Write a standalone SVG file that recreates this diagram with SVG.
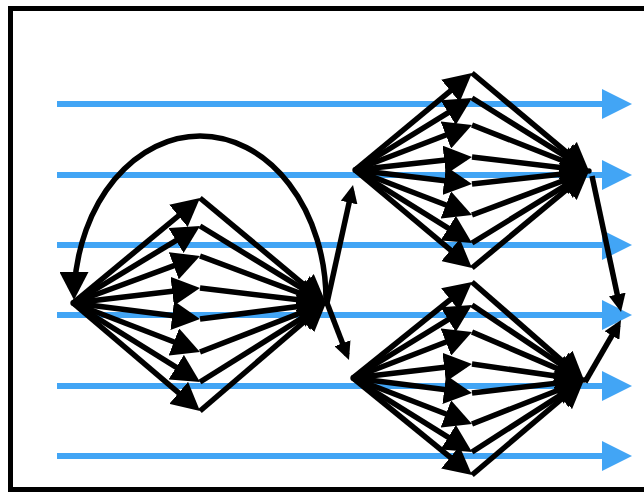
<svg xmlns="http://www.w3.org/2000/svg" width="644" height="493" viewBox="0 0 644 493">
<style>
.blue{stroke:#42a5f5;stroke-width:6;fill:none;marker-end:url(#ba)}
.e{stroke:#000;stroke-width:5.5;fill:none;marker-end:url(#big);stroke-dasharray:95 10}
.s{stroke:#000;stroke-width:5.5;fill:none;marker-end:url(#small)}
.n{fill:#000}
</style>
<defs>
<marker id="ba" markerUnits="userSpaceOnUse" viewBox="0 0 30 30" markerWidth="30" markerHeight="30" refX="0" refY="15" orient="auto"><path d="M0,0 L30,15 L0,30 z" fill="#42a5f5"/></marker>
<marker id="big" markerUnits="userSpaceOnUse" viewBox="0 0 28 29" markerWidth="28" markerHeight="29" refX="28" refY="14.5" orient="auto"><path d="M0,0 L28,14.5 L0,29 z" fill="#000"/></marker>
<marker id="small" markerUnits="userSpaceOnUse" viewBox="0 0 18 17" markerWidth="18" markerHeight="17" refX="18" refY="8.5" orient="auto"><path d="M0,0 L18,8.5 L0,17 z" fill="#000"/></marker>
</defs>
<rect x="10.5" y="8.5" width="700" height="481" fill="#fff" stroke="#000" stroke-width="5"/>
<g id="lanes">
<line class="blue" x1="57" y1="104" x2="602" y2="104"/>
<line class="blue" x1="57" y1="175" x2="602" y2="175"/>
<line class="blue" x1="57" y1="245" x2="602" y2="245"/>
<line class="blue" x1="57" y1="315" x2="602" y2="315"/>
<line class="blue" x1="57" y1="386" x2="602" y2="386"/>
<line class="blue" x1="57" y1="456" x2="602" y2="456"/>
</g>
<g id="connectors">
<path class="e" pathLength="100" d="M73 303 L200 198"/>
<path class="e" pathLength="100" d="M73 303 L200 226"/>
<path class="e" pathLength="100" d="M73 303 L200 256"/>
<path class="e" pathLength="100" d="M73 303 L200 288"/>
<path class="e" pathLength="100" d="M73 303 L200 319"/>
<path class="e" pathLength="100" d="M73 303 L200 352"/>
<path class="e" pathLength="100" d="M73 303 L200 382"/>
<path class="e" pathLength="100" d="M73 303 L200 411"/>
<path class="e" pathLength="100" d="M200 198 L326 303"/>
<path class="e" pathLength="100" d="M200 226 L326 303"/>
<path class="e" pathLength="100" d="M200 256 L326 303"/>
<path class="e" pathLength="100" d="M200 288 L326 303"/>
<path class="e" pathLength="100" d="M200 319 L326 303"/>
<path class="e" pathLength="100" d="M200 352 L326 303"/>
<path class="e" pathLength="100" d="M200 382 L326 303"/>
<path class="e" pathLength="100" d="M200 411 L326 303"/>
<path class="e" pathLength="100" style="stroke-dasharray:97 10" d="M326 300 A 126 164 0 0 0 74 300"/>
<path class="e" pathLength="100" d="M355 170 L472 73"/>
<path class="e" pathLength="100" d="M355 170 L472 98"/>
<path class="e" pathLength="100" d="M355 170 L472 125"/>
<path class="e" pathLength="100" d="M355 170 L472 157"/>
<path class="e" pathLength="100" d="M355 170 L472 184"/>
<path class="e" pathLength="100" d="M355 170 L472 215"/>
<path class="e" pathLength="100" d="M355 170 L472 243"/>
<path class="e" pathLength="100" d="M355 170 L472 268"/>
<path class="e" pathLength="100" d="M472 73 L589 171"/>
<path class="e" pathLength="100" d="M472 98 L589 171"/>
<path class="e" pathLength="100" d="M472 125 L589 171"/>
<path class="e" pathLength="100" d="M472 157 L589 171"/>
<path class="e" pathLength="100" d="M472 184 L589 171"/>
<path class="e" pathLength="100" d="M472 215 L589 171"/>
<path class="e" pathLength="100" d="M472 243 L589 171"/>
<path class="e" pathLength="100" d="M472 268 L589 171"/>
<path class="e" pathLength="100" d="M353 378 L472 282"/>
<path class="e" pathLength="100" d="M353 378 L472 305"/>
<path class="e" pathLength="100" d="M353 378 L472 332"/>
<path class="e" pathLength="100" d="M353 378 L472 364"/>
<path class="e" pathLength="100" d="M353 378 L472 393"/>
<path class="e" pathLength="100" d="M353 378 L472 424"/>
<path class="e" pathLength="100" d="M353 378 L472 452"/>
<path class="e" pathLength="100" d="M353 378 L472 475"/>
<path class="e" pathLength="100" d="M472 282 L584 380"/>
<path class="e" pathLength="100" d="M472 305 L584 380"/>
<path class="e" pathLength="100" d="M472 332 L584 380"/>
<path class="e" pathLength="100" d="M472 364 L584 380"/>
<path class="e" pathLength="100" d="M472 393 L584 380"/>
<path class="e" pathLength="100" d="M472 424 L584 380"/>
<path class="e" pathLength="100" d="M472 452 L584 380"/>
<path class="e" pathLength="100" d="M472 475 L584 380"/>
<path class="s" pathLength="100" style="stroke-dasharray:95 10" d="M327 303 L353 185"/>
<path class="s" pathLength="100" style="stroke-dasharray:91 10" d="M327 303 L349 360"/>
<path class="s" pathLength="100" style="stroke-dasharray:95 10" d="M592 176 L621 312"/>
<path class="s" pathLength="100" style="stroke-dasharray:92 10" d="M585 382 L621 320"/>
</g>
<g id="nodeA"><circle class="n" cx="73" cy="303" r="2.7"/></g>
<g id="nodeB"><circle class="n" cx="326" cy="303" r="2.7"/></g>
<g id="nodeC"><circle class="n" cx="355" cy="170" r="2.7"/></g>
<g id="nodeD"><circle class="n" cx="589" cy="171" r="2.7"/></g>
<g id="nodeE"><circle class="n" cx="353" cy="378" r="2.7"/></g>
<g id="nodeF"><circle class="n" cx="584" cy="380" r="2.7"/></g>
</svg>
